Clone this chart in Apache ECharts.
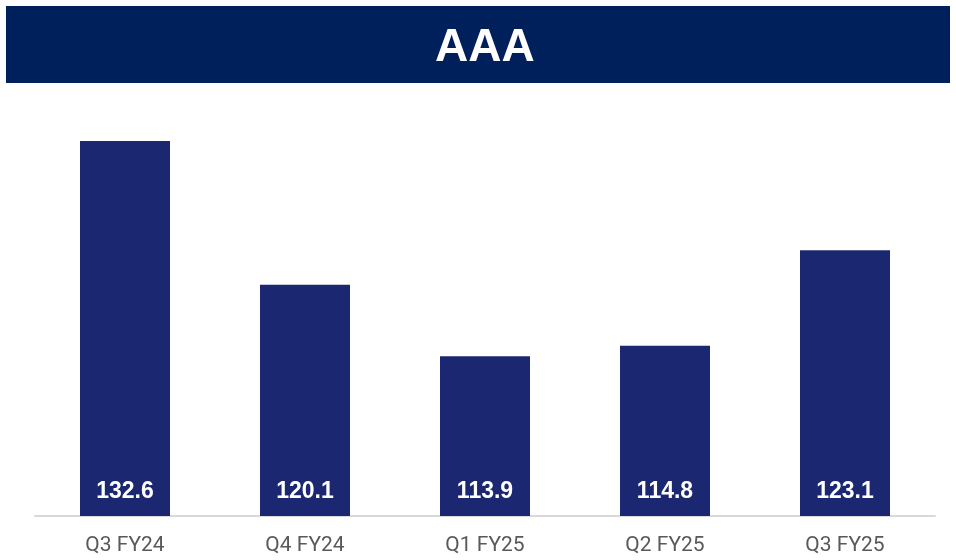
<!DOCTYPE html>
<html><head><meta charset="utf-8">
<script src="https://cdn.jsdelivr.net/npm/echarts@6/dist/echarts.min.js"></script>
<style>html,body{margin:0;padding:0;background:#fff}#c{width:956px;height:560px}</style>
</head><body><div id="c"></div>
<script>
const titleText = "AAA";
const categories = ["Q3 FY24", "Q4 FY24", "Q1 FY25", "Q2 FY25", "Q3 FY25"];
const values = [132.6, 120.1, 113.9, 114.8, 123.1];

const chart = echarts.init(document.getElementById('c'), null, {renderer: 'canvas'});
chart.setOption({
  animation: false,
  graphic: [
    {type: 'rect', left: 6, top: 6, shape: {width: 944, height: 77}, style: {fill: '#00205C'}},
    {type: 'text', left: 435, top: 25, style: {text: titleText, fill: '#fff', font: 'bold 46px "Liberation Sans", Arial, sans-serif'}}
  ],
  grid: {left: 35, right: 21, top: 113.5, bottom: 44},
  xAxis: {
    type: 'category', data: categories,
    axisLine: {lineStyle: {color: '#D9D9D9', width: 2}},
    axisTick: {show: false},
    axisLabel: {color: '#595959', fontSize: 21, fontFamily: 'Roboto, "Liberation Sans", Arial, sans-serif', margin: 19}
  },
  yAxis: {type: 'value', min: 100, max: 135, show: false, splitLine: {show: false}},
  series: [{
    type: 'bar', data: values, barWidth: '50%',
    itemStyle: {color: '#1B2771'},
    label: {show: true, position: 'insideBottom', distance: 13, color: '#fff', fontSize: 23, fontWeight: 'bold',
      fontFamily: '"Liberation Sans", Arial, sans-serif', formatter: p => p.value.toFixed(1)}
  }]
});
</script></body></html>
